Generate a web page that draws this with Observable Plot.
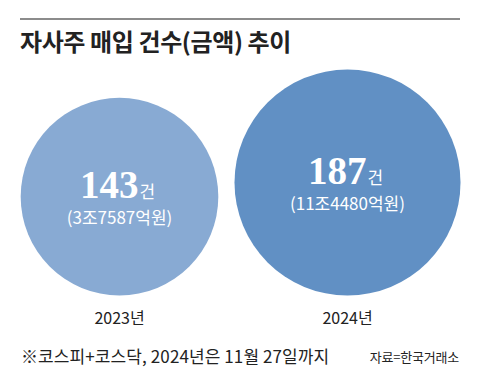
<!DOCTYPE html>
<html><head><meta charset="utf-8">
<script src="https://cdn.jsdelivr.net/npm/d3@7"></script>
<script src="https://cdn.jsdelivr.net/npm/@observablehq/plot@0.6"></script>
<style>
body{margin:0;background:#fff;}
#wrap{position:relative;width:480px;height:387px;overflow:hidden;font-family:"Noto Sans CJK KR","Noto Sans",sans-serif;color:#222;}
#rule{position:absolute;left:20px;top:18px;width:440px;height:2px;background:#8c8c8c;}
#title{position:absolute;left:20px;top:25px;font-size:24px;line-height:32px;font-weight:700;letter-spacing:-0.4px;white-space:nowrap;}
#chart{position:absolute;left:0;top:60px;}
#note{position:absolute;left:21px;top:343px;font-size:17px;line-height:26px;letter-spacing:0.1px;white-space:nowrap;}
#source{position:absolute;right:21px;top:347px;font-size:13px;line-height:20px;letter-spacing:-0.2px;white-space:nowrap;}
</style></head>
<body>
<div id="wrap">
  <div id="rule"></div>
  <div id="title"></div>
  <div id="chart"></div>
  <div id="note"></div>
  <div id="source"></div>
</div>
<script>
const titleText = "자사주 매입 건수(금액) 추이";
const noteText = "※코스피+코스닥, 2024년은 11월 27일까지";
const sourceText = "자료=한국거래소";
const years = ["2023년", "2024년"];
const counts = [143, 187];
const amounts = ["(3조7587억원)", "(11조4480억원)"];
const unit = "건";
const colors = ["#88aad3", "#6190c4"];

document.getElementById("title").textContent = titleText;
document.getElementById("note").textContent = noteText;
document.getElementById("source").textContent = sourceText;

const rMax = 113;
const rDomain = [0, 187];
const base = 235; // bottom line the circles sit on (svg px)
const rScale = d3.scaleSqrt().domain(rDomain).range([0, rMax]);

const data = years.map((y, i) => ({
  year: y, count: counts[i], amount: amounts[i], color: colors[i],
  cy: base - rScale(counts[i])
}));

const chart = Plot.plot({
  width: 480,
  height: 270,
  margin: 0,
  x: {type: "point", domain: years, range: [119, 347], padding: 0, axis: null},
  y: {type: "identity", axis: null},
  r: {type: "sqrt", domain: rDomain, range: [0, rMax]},
  color: {type: "identity"},
  marks: [
    Plot.dot(data, {x: "year", y: "cy", r: "count", fill: "color", stroke: null}),
    Plot.text(data, {x: "year", y: "cy", text: d => String(d.count), textAnchor: "end", lineAnchor: "bottom",
      dx: 19, dy: 1.5, fill: "white", fontSize: 39, fontWeight: "bold", fontFamily: "Liberation Serif, serif"}),
    Plot.text(data, {x: "year", y: "cy", text: () => unit, textAnchor: "start", lineAnchor: "bottom",
      dx: 20, dy: 1.5, fill: "white", fontSize: 17, fontFamily: "Noto Sans CJK KR, sans-serif"}),
    Plot.text(data, {x: "year", y: "cy", text: "amount", textAnchor: "middle", lineAnchor: "bottom",
      dy: 27.5, fill: "white", fontSize: 17, fontFamily: "Noto Sans CJK KR, sans-serif", letterSpacing: "-1px"}),
    Plot.text(data, {x: "year", y: () => base, text: "year", textAnchor: "middle", lineAnchor: "bottom",
      dy: 28, fill: "#222", fontSize: 16, fontFamily: "Noto Sans CJK KR, sans-serif", letterSpacing: "-0.8px"})
  ]
});
document.getElementById("chart").appendChild(chart);
</script>
</body></html>
